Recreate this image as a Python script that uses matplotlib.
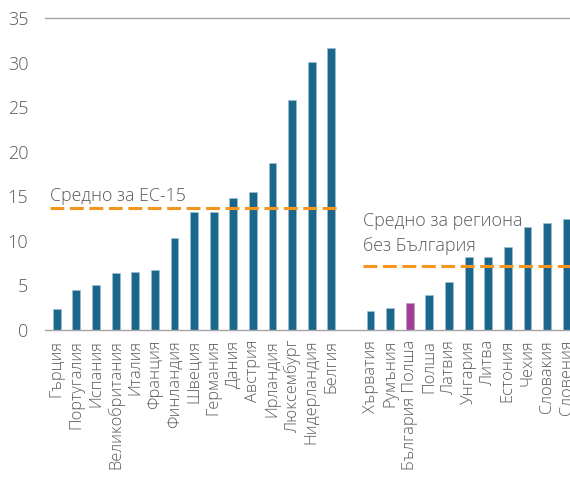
import matplotlib
matplotlib.use("Agg")
import matplotlib.pyplot as plt
import numpy as np

# ---- data ----
eu_countries = ["Гърция", "Португалия", "Испания", "Великобритания", "Италия",
                "Франция", "Финландия", "Швеция", "Германия", "Дания", "Австрия",
                "Ирландия", "Люксембург", "Нидерландия", "Белгия"]
eu_values = [2.4, 4.5, 5.1, 6.4, 6.5, 6.7, 10.3, 13.2, 13.3, 14.8, 15.5,
             18.7, 25.8, 30.1, 31.6]

reg_countries = ["Хърватия", "Румъния", "България Полша", "Полша", "Латвия",
                 "Унгария", "Литва", "Естония", "Чехия", "Словакия", "Словения"]
reg_values = [2.1, 2.5, 3.0, 3.9, 5.4, 8.2, 8.2, 9.3, 11.6, 12.0, 12.5]

eu_mean = 13.7
reg_mean = 7.15
eu_label = "Средно за ЕС-15"
reg_label = "Средно за региона\nбез България"
y_ticks = [0, 5, 10, 15, 20, 25, 30, 35]

# ---- style ----
plt.rcParams['font.family'] = ['Open Sans', 'DejaVu Sans']
plt.rcParams['lines.scale_dashes'] = False
bar_color = "#1b678c"
hl_color = "#9e3f98"
line_color = "#f7941d"
text_color = "#595959"

fig = plt.figure(figsize=(5.70, 4.79), dpi=100)
ax = fig.add_axes([0.079, 0.311, 0.921, 0.651])

eu_x = np.arange(len(eu_countries))
reg_x = np.arange(len(reg_countries)) + len(eu_countries) + 1

ax.bar(eu_x, eu_values, width=0.4, color=bar_color,
       edgecolor="#9dbfd1", linewidth=0.5)
reg_colors = [hl_color if c.startswith("България") else bar_color for c in reg_countries]
ax.bar(reg_x, reg_values, width=0.4, color=reg_colors,
       edgecolor=["#c79ac4" if c == hl_color else "#9dbfd1" for c in reg_colors],
       linewidth=0.5)

# mean lines
ax.plot([-0.36, eu_x[-1] + 0.34], [eu_mean, eu_mean], color=line_color,
        lw=2.2, dashes=(10, 4), dash_capstyle='butt', zorder=3)
ax.plot([reg_x[0] - 0.4, reg_x[-1] + 1], [reg_mean, reg_mean], color=line_color,
        lw=2.2, dashes=(10, 4), dash_capstyle='butt', zorder=3)

ax.text(-0.36, eu_mean + 0.8, eu_label, fontsize=12.8, color=text_color,
        fontweight='light', va='baseline', ha='left')
ax.text(reg_x[0] - 0.4, reg_mean + 1.3, reg_label, fontsize=12.9,
        color=text_color, fontweight='light', va='bottom', ha='left',
        linespacing=1.5)

ax.set_xlim(-0.6, 26.17)
ax.set_ylim(0, 35)
ax.set_yticks(y_ticks)
ax.set_xticks(np.concatenate([eu_x, reg_x]))
ax.set_xticklabels(eu_countries + reg_countries, rotation=90, ha='center',
                   va='top', fontsize=11.8, color=text_color, fontweight='light')
ax.tick_params(axis='x', length=0, pad=7)
ax.tick_params(axis='y', length=0, pad=12, labelsize=13, labelcolor=text_color)
for lab in ax.get_yticklabels():
    lab.set_fontweight('light')

for s in ['left', 'right']:
    ax.spines[s].set_visible(False)
ax.spines['top'].set_color('#a6a6a6')
ax.spines['top'].set_linewidth(1.0)
ax.spines['bottom'].set_color('#a6a6a6')
ax.spines['bottom'].set_linewidth(1.0)

fig.savefig("out.png", dpi=100)
